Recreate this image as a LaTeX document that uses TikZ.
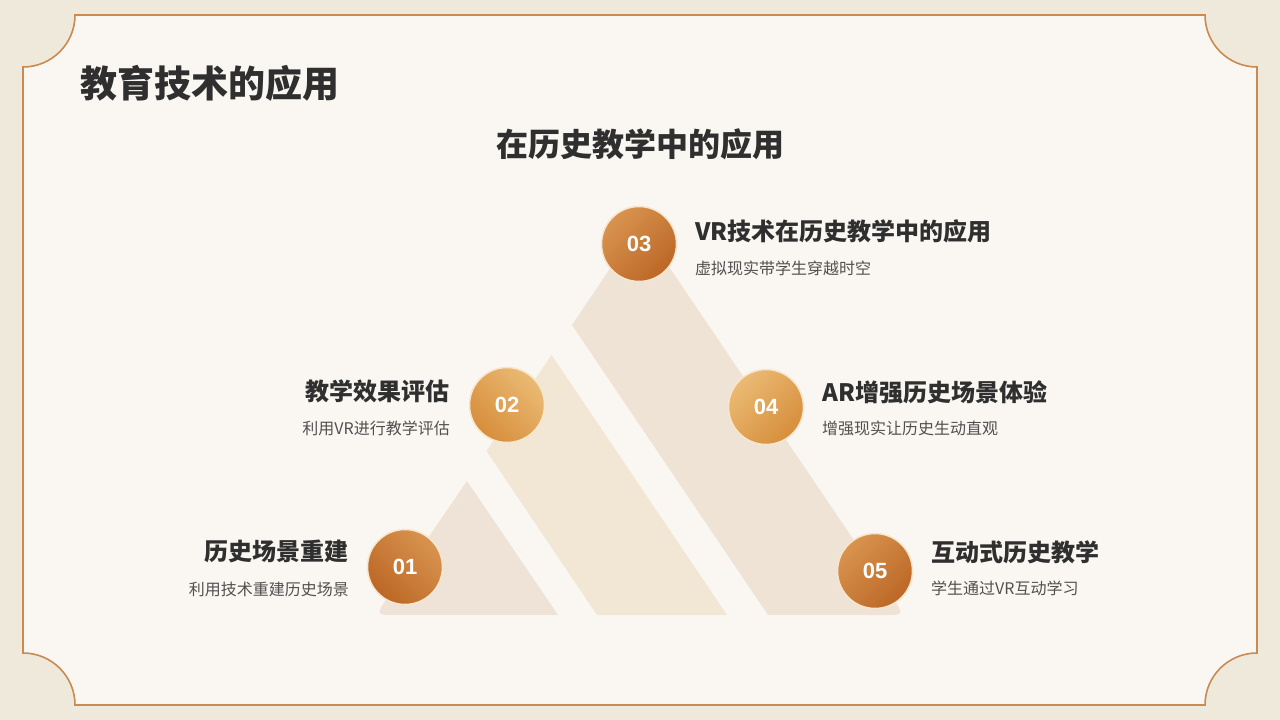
\documentclass[tikz,border=0pt]{standalone}
\usepackage{fontspec}
\setmainfont{Noto Sans CJK SC}
\newfontfamily\numfont{Liberation Sans}
\definecolor{outerbg}{HTML}{EFE9DC}
\definecolor{innerbg}{HTML}{FAF7F2}
\definecolor{framec}{HTML}{C98B52}
\definecolor{pieceA}{HTML}{EEE3D6}
\definecolor{pieceB}{HTML}{F2E6D4}
\definecolor{pieceC}{HTML}{EFE3D5}
\definecolor{darkL}{HTML}{D8944F}
\definecolor{darkD}{HTML}{BC6726}
\definecolor{goldL}{HTML}{EBBA74}
\definecolor{goldD}{HTML}{D68E3B}
\definecolor{glow}{HTML}{F7E6CE}
\definecolor{labc}{HTML}{2F2F2F}
\definecolor{descc}{HTML}{505050}
\tikzset{
  numdark/.style={circle, minimum size=75pt, inner sep=0pt, draw=glow, line width=1.5pt,
    top color=darkL, bottom color=darkD, text=white, font=\numfont\bfseries\fontsize{22}{25}\selectfont},
  numgold/.style={circle, minimum size=75pt, inner sep=0pt, draw=glow, line width=1.5pt,
    top color=goldL, bottom color=goldD, text=white, font=\numfont\bfseries\fontsize{22}{25}\selectfont},
  lab/.style={inner sep=0pt, text=labc, font=\bfseries\fontsize{24}{28}\selectfont},
  desc/.style={inner sep=0pt, text=descc, font=\fontsize{16}{19}\selectfont},
}
\begin{document}
\begin{tikzpicture}[x=1pt,y=-1pt]
\useasboundingbox (0,0) rectangle (1280,720);
\fill[outerbg] (0,0) rectangle (1280,720);
\filldraw[fill=innerbg, draw=framec, line width=1.6pt]
  (75,15) -- (1205,15) arc[start angle=180,end angle=90,radius=52]
  -- (1257,653) arc[start angle=270,end angle=180,radius=52]
  -- (75,705) arc[start angle=0,end angle=-90,radius=52]
  -- (23,67) arc[start angle=90,end angle=0,radius=52] -- cycle;

% title
\node[inner sep=0pt, anchor=west, text=labc, font=\bfseries\fontsize{37}{42}\selectfont] (title) at (80,83) {教育技术的应用};
\node[inner sep=0pt, text=labc, font=\bfseries\fontsize{32}{36}\selectfont] (subtitle) at (640,144) {在历史教学中的应用};

% mountain pieces
\fill[pieceA] (467,481) -- (387,598) .. controls (376,615) .. (396,615) -- (558,615) -- cycle;
\fill[pieceB] (486.5,451) -- (551.5,355) -- (727,615) -- (597,615) -- cycle;
\fill[pieceC] (572,325) -- (640,224) -- (893,598) .. controls (904,615) .. (884,615) -- (768,615) -- cycle;

% circles
\node[numdark, shading angle=-45] (c1) at (405,567) {01};
\node[numgold, shading angle=-45] (c2) at (507,405) {02};
\node[numdark, shading angle=45] (c3) at (639,244) {03};
\node[numgold, shading angle=45] (c4) at (766,407) {04};
\node[numdark, shading angle=45] (c5) at (875,571) {05};

% labels
\node[lab, anchor=east] (l1) at (349,551) {历史场景重建};
\node[desc, anchor=east] (d1) at (349,589) {利用技术重建历史场景};
\node[lab, anchor=east] (l2) at (450,391) {教学效果评估};
\node[desc, anchor=east] (d2) at (450,428) {利用VR进行教学评估};
\node[lab, anchor=west] (l3) at (695,231) {VR技术在历史教学中的应用};
\node[desc, anchor=west] (d3) at (695,268) {虚拟现实带学生穿越时空};
\node[lab, anchor=west] (l4) at (822,392) {AR增强历史场景体验};
\node[desc, anchor=west] (d4) at (822,428) {增强现实让历史生动直观};
\node[lab, anchor=west] (l5) at (931,552) {互动式历史教学};
\node[desc, anchor=west] (d5) at (931,588) {学生通过VR互动学习};
\end{tikzpicture}
\end{document}
